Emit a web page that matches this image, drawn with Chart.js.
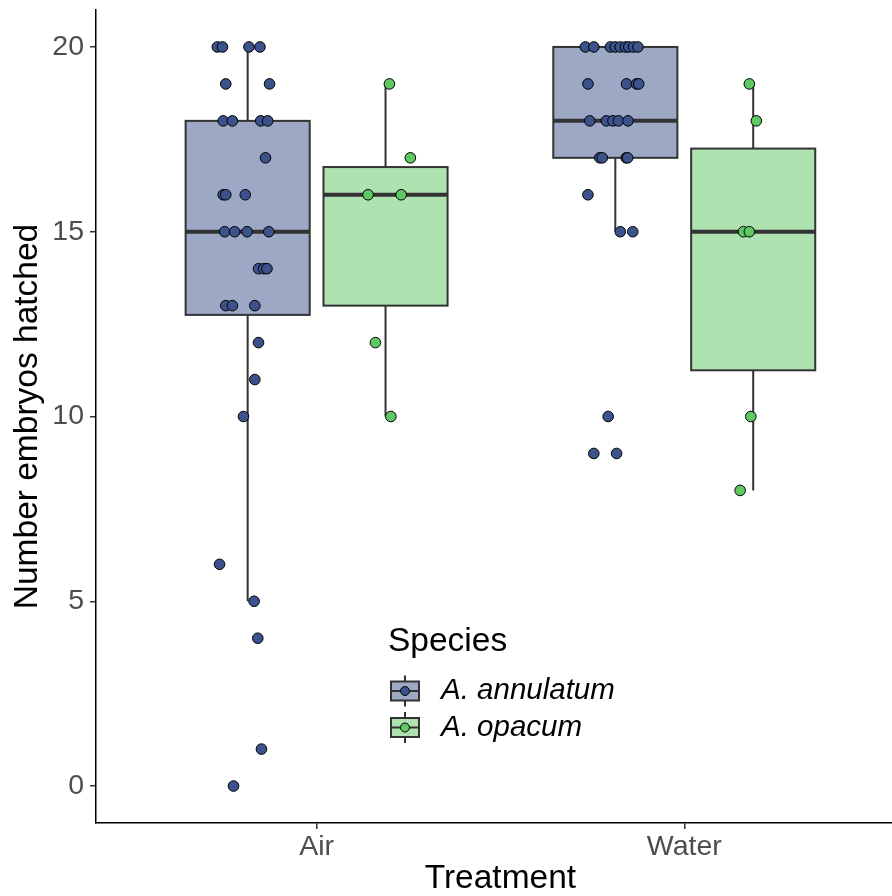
<!DOCTYPE html>
<html>
<head>
<meta charset="utf-8">
<script src="https://cdn.jsdelivr.net/npm/chart.js@4.4.1/dist/chart.umd.min.js"></script>
<style>
  html, body { margin: 0; padding: 0; background: #fff; }
  canvas { display: block; }
</style>
</head>
<body>
<canvas id="chart" width="892" height="896"></canvas>
<script>
// categories and ticks
const treatments = ['Air', 'Water'];
const species = ['A. annulatum', 'A. opacum'];
const yTicks = [0, 5, 10, 15, 20];

// jittered points (x in category units, Air = 1, Water = 2)
const annulatumY = [20, 20, 20, 20, 19, 19, 18, 18, 18, 18, 17, 16, 16, 16, 15, 15, 15, 15,
                    14, 14, 14, 13, 13, 13, 12, 11, 10, 6, 5, 4, 1, 0,
                    20, 20, 20, 20, 20, 20, 20, 20, 20, 19, 19, 19, 19, 18, 18, 18, 18, 18,
                    17, 17, 17, 17, 16, 15, 15, 10, 9, 9];
const annulatumX = [0.730, 0.744, 0.816, 0.846, 0.753, 0.872, 0.746, 0.771, 0.848, 0.867, 0.861,
                    0.746, 0.753, 0.806, 0.750, 0.777, 0.811, 0.870, 0.842, 0.856, 0.865,
                    0.753, 0.771, 0.832, 0.842, 0.832, 0.801, 0.736, 0.830, 0.840, 0.850, 0.774,
                    1.731, 1.754, 1.799, 1.812, 1.826, 1.840, 1.849, 1.862, 1.874,
                    1.738, 1.843, 1.870, 1.876, 1.743, 1.788, 1.806, 1.821, 1.847,
                    1.770, 1.777, 1.842, 1.846, 1.738, 1.826, 1.860, 1.793, 1.754, 1.816];
const opacumY = [19, 17, 16, 16, 12, 10,
                 19, 18, 15, 15, 10, 8];
const opacumX = [1.198, 1.255, 1.140, 1.230, 1.160, 1.202,
                 2.177, 2.196, 2.161, 2.177, 2.181, 2.152];

// box statistics per treatment (Air, Water)
const annulatumLow = [5, 15];
const annulatumQ1 = [12.75, 17];
const annulatumMedian = [15, 18];
const annulatumQ3 = [18, 20];
const annulatumHigh = [20, 20];
const opacumLow = [10, 8];
const opacumQ1 = [13, 11.25];
const opacumMedian = [16, 15];
const opacumQ3 = [16.75, 17.25];
const opacumHigh = [19, 19];

const pointColors = ['#3b528b', '#5ec962'];
const boxFills = ['#9da8c5', '#aee2b0'];
const dodge = [-0.1875, 0.1875];
const boxWidth = 0.3375;
const FONT = '"Liberation Sans", Arial, Helvetica, sans-serif';

const boxStats = [
  { low: annulatumLow, q1: annulatumQ1, med: annulatumMedian, q3: annulatumQ3, high: annulatumHigh },
  { low: opacumLow, q1: opacumQ1, med: opacumMedian, q3: opacumQ3, high: opacumHigh }
];

function toPoints(xs, ys) {
  return ys.map((v, i) => ({ x: xs[i], y: v }));
}

// boxes are drawn under the points, using the chart's scales
const boxPlugin = {
  id: 'boxes',
  beforeDatasetsDraw(chart) {
    const { ctx, scales: { x, y } } = chart;
    ctx.save();
    boxStats.forEach((st, s) => {
      treatments.forEach((t, i) => {
        const cx = x.getPixelForValue(i + 1 + dodge[s]);
        const half = (x.getPixelForValue(i + 1 + dodge[s] + boxWidth / 2) - cx);
        const yq1 = y.getPixelForValue(st.q1[i]);
        const yq3 = y.getPixelForValue(st.q3[i]);
        ctx.strokeStyle = '#333333';
        ctx.lineWidth = 2;
        // whiskers
        ctx.beginPath();
        ctx.moveTo(cx, y.getPixelForValue(st.high[i]));
        ctx.lineTo(cx, yq3);
        ctx.moveTo(cx, yq1);
        ctx.lineTo(cx, y.getPixelForValue(st.low[i]));
        ctx.stroke();
        // box
        ctx.fillStyle = boxFills[s];
        ctx.fillRect(cx - half, yq3, half * 2, yq1 - yq3);
        ctx.strokeRect(cx - half, yq3, half * 2, yq1 - yq3);
        // median
        ctx.lineWidth = 4;
        ctx.beginPath();
        const ym = y.getPixelForValue(st.med[i]);
        ctx.moveTo(cx - half, ym);
        ctx.lineTo(cx + half, ym);
        ctx.stroke();
      });
    });
    ctx.restore();
  }
};

// legend placed inside the panel, and the x title centred between the groups
const legendPlugin = {
  id: 'speciesLegend',
  afterDraw(chart) {
    const { ctx, scales: { x } } = chart;
    ctx.save();
    ctx.textBaseline = 'middle';
    ctx.fillStyle = '#000';
    ctx.font = '33.5px ' + FONT;
    ctx.textAlign = 'center';
    ctx.fillText('Treatment', x.getPixelForValue((1 + treatments.length) / 2), 879);
    ctx.textAlign = 'left';
    ctx.fillText('Species', 388, 642);
    chart.data.datasets.forEach((ds, i) => {
      const cy = 691 + i * 36.5;
      const kx = 391, kw = 28, kh = 19;
      const cx = kx + kw / 2;
      ctx.strokeStyle = '#333333';
      ctx.lineWidth = 2;
      ctx.beginPath();
      ctx.moveTo(cx, cy - kh / 2 - 6);
      ctx.lineTo(cx, cy + kh / 2 + 6);
      ctx.stroke();
      ctx.fillStyle = boxFills[i];
      ctx.fillRect(kx, cy - kh / 2, kw, kh);
      ctx.strokeRect(kx, cy - kh / 2, kw, kh);
      ctx.beginPath();
      ctx.moveTo(kx, cy);
      ctx.lineTo(kx + kw, cy);
      ctx.stroke();
      ctx.beginPath();
      ctx.arc(cx, cy, 4.5, 0, Math.PI * 2);
      ctx.fillStyle = ds.backgroundColor;
      ctx.fill();
      ctx.lineWidth = 1;
      ctx.strokeStyle = '#000';
      ctx.stroke();
      ctx.fillStyle = '#000';
      ctx.font = 'italic 29.5px ' + FONT;
      ctx.fillText(ds.label, 441, cy);
    });
    ctx.restore();
  }
};

new Chart(document.getElementById('chart'), {
  type: 'scatter',
  data: {
    datasets: [
      {
        label: species[0],
        data: toPoints(annulatumX, annulatumY),
        backgroundColor: pointColors[0],
        borderColor: '#000',
        borderWidth: 1,
        pointRadius: 5.3
      },
      {
        label: species[1],
        data: toPoints(opacumX, opacumY),
        backgroundColor: pointColors[1],
        borderColor: '#000',
        borderWidth: 1,
        pointRadius: 5.3
      }
    ]
  },
  options: {
    responsive: false,
    animation: false,
    devicePixelRatio: 1,
    layout: { autoPadding: false, padding: { top: 10, right: 0, bottom: 0, left: 0 } },
    plugins: { legend: { display: false }, tooltip: { enabled: false } },
    scales: {
      x: {
        type: 'linear',
        min: 0.4,
        max: 2.565,
        afterBuildTicks: axis => { axis.ticks = treatments.map((t, i) => ({ value: i + 1 })); },
        afterFit: axis => { axis.height = 73; axis.paddingLeft = 0; axis.paddingRight = 0; },
        ticks: {
          callback: v => treatments[v - 1],
          color: '#4d4d4d',
          font: { family: FONT, size: 28.5 },
          padding: 1,
          maxRotation: 0
        },
        grid: { drawOnChartArea: false, drawTicks: true, tickLength: 6, color: '#333333', lineWidth: 1.5 },
        border: { display: true, color: '#000', width: 1.5 },
        title: { display: false }
      },
      y: {
        min: -1,
        max: 21,
        afterBuildTicks: axis => { axis.ticks = yTicks.map(v => ({ value: v })); },
        afterFit: axis => { axis.width = 96; axis.paddingTop = 0; axis.paddingBottom = 0; },
        ticks: {
          color: '#4d4d4d',
          font: { family: FONT, size: 28.5 },
          padding: 6
        },
        grid: { drawOnChartArea: false, drawTicks: true, tickLength: 6, color: '#333333', lineWidth: 1.5 },
        border: { display: true, color: '#000', width: 1.5 },
        title: {
          display: true,
          text: 'Number embryos hatched',
          color: '#000',
          font: { family: FONT, size: 33.5, lineHeight: 1 },
          padding: { top: 11, bottom: 0 }
        }
      }
    }
  },
  plugins: [boxPlugin, legendPlugin]
});
</script>
</body>
</html>
